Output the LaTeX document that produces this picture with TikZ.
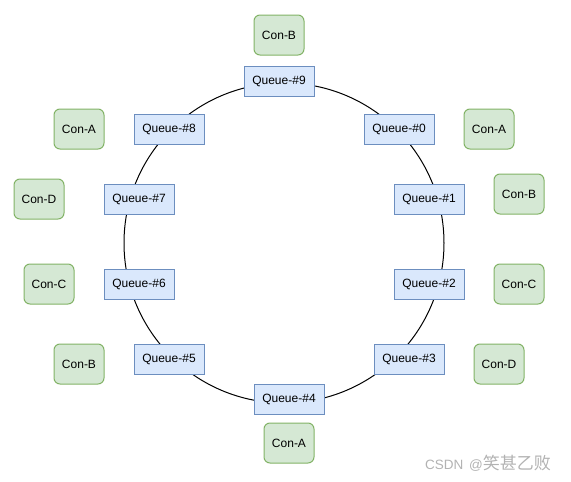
\documentclass[tikz,border=0pt]{standalone}
\usepackage{fontspec}
\setmainfont{Liberation Sans}
\newfontfamily\cjk{Noto Sans CJK SC}
\definecolor{qfill}{HTML}{DAE8FC}
\definecolor{qdraw}{HTML}{6C8EBF}
\definecolor{cfill}{HTML}{D5E8D4}
\definecolor{cdraw}{HTML}{82B366}
\begin{document}
\begin{tikzpicture}[x=1pt,y=-1pt,
  queue/.style={draw=qdraw,fill=qfill,line width=1pt,minimum width=70pt,minimum height=30pt,inner sep=0pt,font=\fontsize{12}{14}\selectfont},
  cons/.style={draw=cdraw,fill=cfill,line width=1pt,rounded corners=6pt,minimum width=50pt,minimum height=40pt,inner sep=0pt,font=\fontsize{12}{14}\selectfont}]
\useasboundingbox (0,0) rectangle (571,482);
\draw[line width=1pt] (284,243) circle (160);
\node[queue] (q9) at (279,81) {Queue-\#9};
\node[queue] (q0) at (399,129) {Queue-\#0};
\node[queue] (q1) at (429,199) {Queue-\#1};
\node[queue] (q2) at (429,284) {Queue-\#2};
\node[queue] (q3) at (409,359) {Queue-\#3};
\node[queue] (q4) at (289,399) {Queue-\#4};
\node[queue] (q5) at (169,359) {Queue-\#5};
\node[queue] (q6) at (139,284) {Queue-\#6};
\node[queue] (q7) at (139,199) {Queue-\#7};
\node[queue] (q8) at (169,129) {Queue-\#8};
\node[cons] (c9) at (279,35) {Con-B};
\node[cons] (c0) at (489,129) {Con-A};
\node[cons] (c1) at (519,194) {Con-B};
\node[cons] (c2) at (519,284) {Con-C};
\node[cons] (c3) at (499,364) {Con-D};
\node[cons] (c4) at (289,443) {Con-A};
\node[cons] (c5) at (79,364) {Con-B};
\node[cons] (c6) at (49,284) {Con-C};
\node[cons] (c7) at (39,199) {Con-D};
\node[cons] (c8) at (79,129) {Con-A};
\node[text=gray!60,font=\fontsize{13.5}{15}\selectfont,inner sep=0pt] (wm) at (488,463) {CSDN\hspace{2pt} @{\cjk\fontsize{17}{18}\selectfont 笑甚乙败}};
\end{tikzpicture}
\end{document}
